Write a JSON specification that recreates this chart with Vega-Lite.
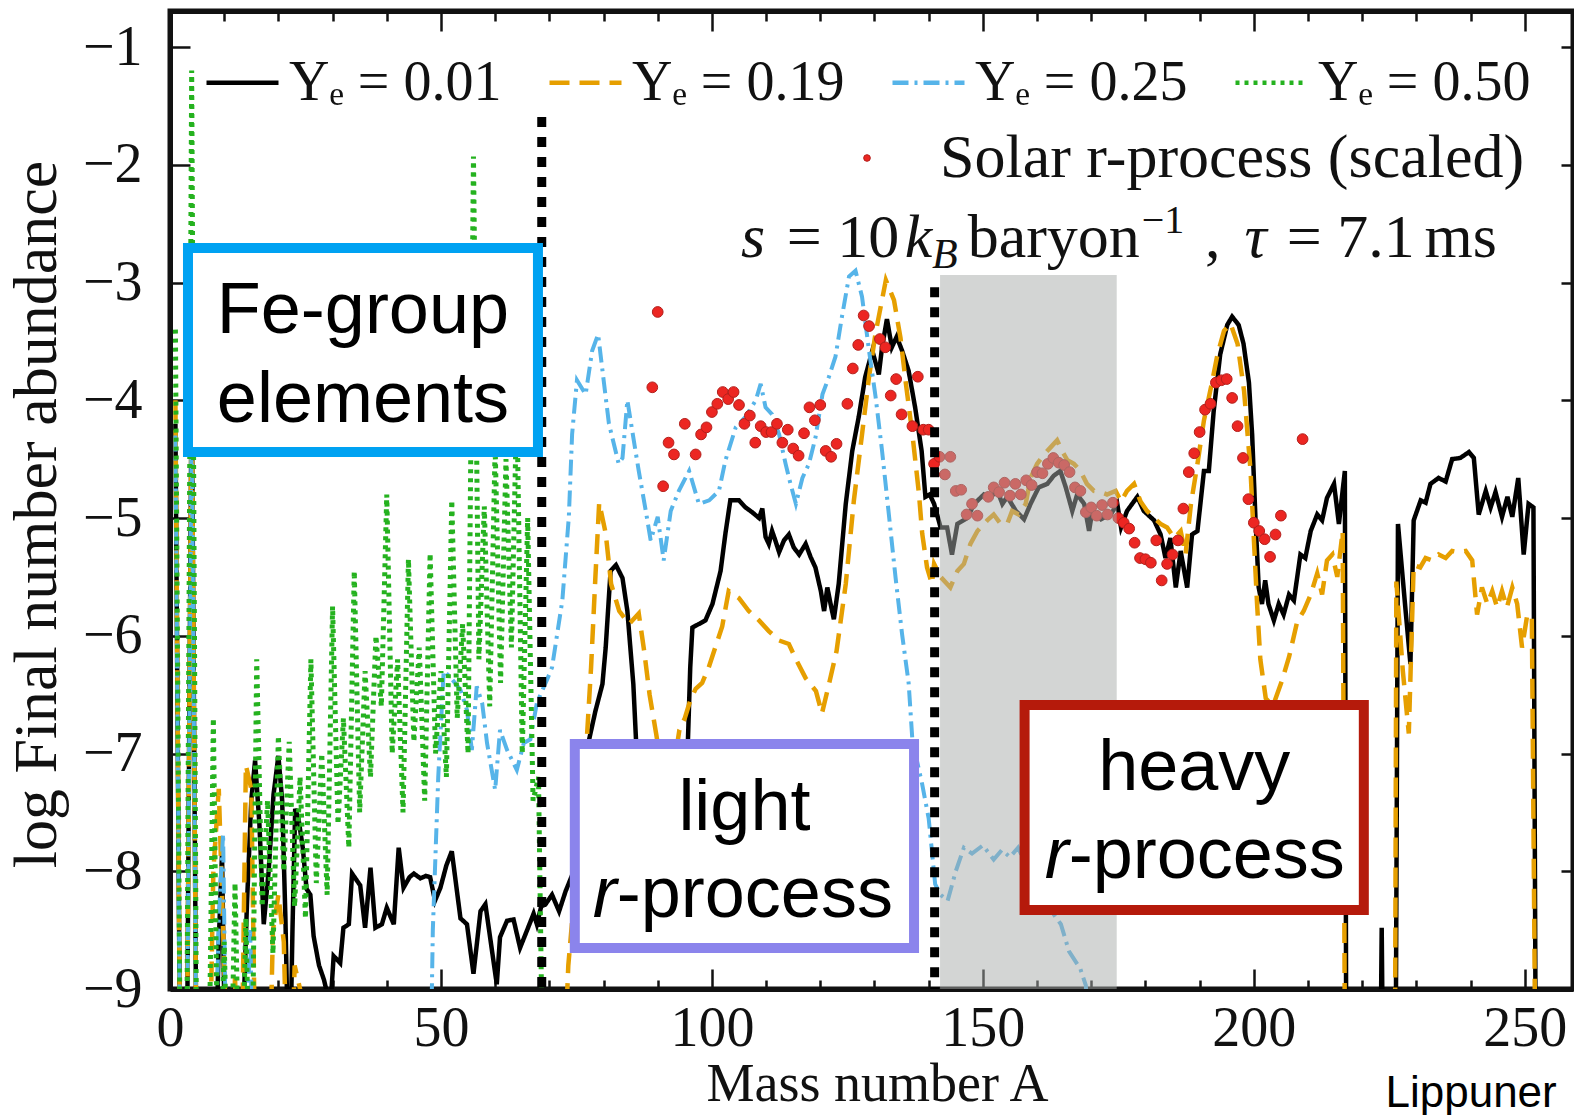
{
  "$schema": "https://vega.github.io/schema/vega-lite/v6.json",
  "width": 1403,
  "height": 978,
  "autosize": {"type": "none"},
  "padding": {"left": 170, "top": 11, "right": 1, "bottom": 126},
  "background": "#ffffff",
  "config": {
    "view": {"stroke": "#111111", "strokeWidth": 5},
    "axis": {
      "domainColor": "#111111", "domainWidth": 5, "tickColor": "#111111", "tickWidth": 2.5,
      "grid": false, "labelFont": "Liberation Serif", "labelFontSize": 56, "labelColor": "#111111",
      "titleFont": "Liberation Serif", "titleFontWeight": "normal", "titleColor": "#111111",
      "labelFlush": false, "labelOverlap": false, "labelBound": false, "zindex": 1
    },
    "legend": {"labelFont": "Liberation Serif", "labelColor": "#111111", "padding": 0}
  },
  "datasets": {
    "ye001": [
      {"A":1,"v":-4.2},{"A":2,"v":-10.5},{"A":3,"v":-10.5},{"A":4,"v":-3.8},{"A":5,"v":-10.5},{"A":8,"v":-10.5},
      {"A":9,"v":-8.6},{"A":9.6,"v":-7.85},{"A":10.3,"v":-10},{"A":13,"v":-10},{"A":14.2,"v":-8.28},{"A":15,"v":-7.4},
      {"A":15.7,"v":-7.06},{"A":16.5,"v":-7.6},{"A":17.3,"v":-8.45},{"A":18.2,"v":-8.0},{"A":19.1,"v":-7.35},{"A":20,"v":-7.02},
      {"A":20.7,"v":-7.4},{"A":21.3,"v":-8.4},{"A":22,"v":-10},{"A":22.6,"v":-8.5},{"A":23.1,"v":-7.47},{"A":23.7,"v":-7.55},
      {"A":24.5,"v":-7.8},{"A":25.2,"v":-8.15},{"A":25.9,"v":-8.2},{"A":26.5,"v":-8.55},{"A":27.5,"v":-8.8},{"A":28.4,"v":-8.92},
      {"A":29.6,"v":-9.15},{"A":30.2,"v":-8.72},{"A":31.4,"v":-8.78},{"A":32,"v":-8.48},{"A":33,"v":-8.45},{"A":33.6,"v":-8.02},
      {"A":35.1,"v":-8.12},{"A":36,"v":-8.48},{"A":37,"v":-7.97},{"A":37.9,"v":-8.48},{"A":39.1,"v":-8.45},{"A":40,"v":-8.31},
      {"A":41.3,"v":-8.45},{"A":42.2,"v":-7.8},{"A":43.1,"v":-8.14},{"A":44.2,"v":-8.05},{"A":45,"v":-8.02},{"A":46.2,"v":-8.06},
      {"A":47.2,"v":-8.04},{"A":48,"v":-8.05},{"A":48.9,"v":-8.25},{"A":49.9,"v":-8.14},{"A":51,"v":-7.95},{"A":52,"v":-7.83},
      {"A":53.6,"v":-8.4},{"A":54.8,"v":-8.45},{"A":56,"v":-8.87},{"A":57.3,"v":-8.34},{"A":58.2,"v":-8.28},{"A":60.3,"v":-8.96},
      {"A":60.9,"v":-8.56},{"A":62.2,"v":-8.42},{"A":63.4,"v":-8.41},{"A":64.6,"v":-8.65},{"A":65.9,"v":-8.5},{"A":67.1,"v":-8.36},
      {"A":67.7,"v":-8.45},{"A":68.5,"v":-8.3},{"A":69.3,"v":-8.28},{"A":70.5,"v":-8.2},{"A":71.8,"v":-8.34},{"A":73,"v":-8.17},
      {"A":74.5,"v":-8.0},{"A":75.5,"v":-7.6},{"A":76.5,"v":-7.2},{"A":77.3,"v":-6.89},{"A":78.5,"v":-6.64},{"A":79.8,"v":-6.41},
      {"A":80.4,"v":-6.1},{"A":81.3,"v":-5.45},{"A":82.3,"v":-5.4},{"A":83.5,"v":-5.51},{"A":84.4,"v":-5.79},{"A":85,"v":-6.13},
      {"A":85.5,"v":-6.41},{"A":86,"v":-6.89},{"A":87,"v":-7.5},{"A":89,"v":-8.2},{"A":92,"v":-8.3},{"A":94,"v":-7.8},
      {"A":95.5,"v":-7.0},{"A":96,"v":-6.27},{"A":96.4,"v":-5.93},{"A":97.6,"v":-5.9},{"A":98.8,"v":-5.87},{"A":100.1,"v":-5.73},
      {"A":101.6,"v":-5.45},{"A":102.5,"v":-5.13},{"A":103.4,"v":-4.85},{"A":105,"v":-4.85},{"A":106.2,"v":-4.91},{"A":107.4,"v":-4.95},
      {"A":108.7,"v":-5.0},{"A":109.3,"v":-4.92},{"A":109.9,"v":-5.16},{"A":110.5,"v":-5.22},{"A":111.1,"v":-5.11},{"A":111.7,"v":-5.19},
      {"A":112.4,"v":-5.29},{"A":113.3,"v":-5.19},{"A":114.2,"v":-5.14},{"A":115.1,"v":-5.25},{"A":116.1,"v":-5.31},{"A":117.3,"v":-5.22},
      {"A":118.2,"v":-5.33},{"A":119.1,"v":-5.42},{"A":120.1,"v":-5.62},{"A":120.7,"v":-5.79},{"A":121.3,"v":-5.59},{"A":121.9,"v":-5.73},
      {"A":122.5,"v":-5.86},{"A":123.4,"v":-5.56},{"A":124.7,"v":-4.88},{"A":125.9,"v":-4.43},{"A":127.1,"v":-4.14},{"A":128.3,"v":-3.8},
      {"A":129.6,"v":-3.58},{"A":130.8,"v":-3.78},{"A":131.4,"v":-3.55},{"A":132.3,"v":-3.31},{"A":133.2,"v":-3.55},{"A":134.1,"v":-3.46},
      {"A":135.1,"v":-3.58},{"A":136.3,"v":-3.75},{"A":137.5,"v":-4.06},{"A":138.7,"v":-4.43},{"A":139.4,"v":-4.82},{"A":140.2,"v":-4.8},
      {"A":141,"v":-4.88},{"A":142.2,"v":-5.08},{"A":143.4,"v":-5.08},{"A":144.3,"v":-5.31},{"A":145.3,"v":-5.05},{"A":147.1,"v":-5.0},
      {"A":148.4,"v":-4.88},{"A":150.2,"v":-4.8},{"A":151.4,"v":-4.82},{"A":152.7,"v":-4.77},{"A":153.6,"v":-4.88},{"A":154.5,"v":-4.82},
      {"A":156.1,"v":-4.94},{"A":157.6,"v":-5.01},{"A":158.8,"v":-4.88},{"A":160.3,"v":-4.74},{"A":161.9,"v":-4.71},{"A":163.1,"v":-4.64},
      {"A":164.3,"v":-4.6},{"A":165.3,"v":-4.74},{"A":166.5,"v":-4.94},{"A":167.4,"v":-4.8},{"A":168.7,"v":-4.88},{"A":169.6,"v":-5.11},
      {"A":170.2,"v":-4.94},{"A":171.8,"v":-5.01},{"A":173.6,"v":-4.97},{"A":174.8,"v":-4.88},{"A":175.5,"v":-5.08},{"A":176.6,"v":-4.94},
      {"A":178.5,"v":-4.82},{"A":179.7,"v":-4.94},{"A":181.6,"v":-5.02},{"A":182.8,"v":-5.14},{"A":183.7,"v":-5.34},{"A":184.6,"v":-5.17},
      {"A":185.6,"v":-5.59},{"A":186.5,"v":-5.28},{"A":187.7,"v":-5.59},{"A":188.6,"v":-5.14},{"A":189.6,"v":-5.11},{"A":190.8,"v":-4.6},
      {"A":191.7,"v":-4.6},{"A":192.6,"v":-4.09},{"A":193.8,"v":-3.61},{"A":195.1,"v":-3.36},{"A":196,"v":-3.29},{"A":197.2,"v":-3.36},
      {"A":198.1,"v":-3.52},{"A":199.1,"v":-3.85},{"A":199.7,"v":-4.3},{"A":200.3,"v":-5.0},{"A":200.9,"v":-5.59},{"A":201.5,"v":-5.73},
      {"A":202.1,"v":-5.53},{"A":202.7,"v":-5.73},{"A":203.7,"v":-5.87},{"A":204.6,"v":-5.73},{"A":205.5,"v":-5.82},{"A":206.5,"v":-5.65},
      {"A":207.4,"v":-5.7},{"A":208.6,"v":-5.31},{"A":209.5,"v":-5.34},{"A":210.5,"v":-5.11},{"A":211.7,"v":-4.97},{"A":212.6,"v":-5.02},
      {"A":213.5,"v":-4.83},{"A":214.8,"v":-4.71},{"A":215.7,"v":-5.05},{"A":216.8,"v":-4.6},{"A":217.1,"v":-10.5},{"A":223.2,"v":-10.5},
      {"A":223.6,"v":-8.48},{"A":224,"v":-10.5},{"A":226.1,"v":-10.5},{"A":226.6,"v":-5.05},{"A":227.9,"v":-5.73},{"A":228.9,"v":-6.24},
      {"A":229.5,"v":-5.02},{"A":230.8,"v":-4.85},{"A":231.7,"v":-4.87},{"A":232.6,"v":-4.71},{"A":234.1,"v":-4.66},{"A":235.4,"v":-4.69},
      {"A":236.6,"v":-4.5},{"A":238.1,"v":-4.49},{"A":239.7,"v":-4.44},{"A":240.6,"v":-4.49},{"A":241.5,"v":-4.97},{"A":242.8,"v":-4.77},
      {"A":243.7,"v":-4.91},{"A":244.6,"v":-4.78},{"A":245.8,"v":-4.99},{"A":246.8,"v":-4.82},{"A":247.7,"v":-4.99},{"A":248.8,"v":-4.66},
      {"A":249.8,"v":-5.31},{"A":250.7,"v":-4.88},{"A":251.6,"v":-4.91},{"A":252.1,"v":-10.5}
    ],
    "ye019": [
      {"A":1,"v":-4.0},{"A":2,"v":-10.5},{"A":3,"v":-10.5},{"A":4,"v":-3.9},{"A":5,"v":-10.5},{"A":7,"v":-10.5},{"A":8,"v":-8.0},
      {"A":9,"v":-7.3},{"A":10,"v":-8.8},{"A":11,"v":-10.5},{"A":12,"v":-8.9},{"A":13,"v":-10.5},{"A":14,"v":-7.1},{"A":15,"v":-7.3},
      {"A":16,"v":-10.5},{"A":18,"v":-10.5},{"A":19,"v":-8.5},{"A":20,"v":-8.2},{"A":21,"v":-8.6},{"A":22,"v":-10.5},{"A":23,"v":-8.8},
      {"A":24,"v":-9.0},{"A":25,"v":-10.5},{"A":72,"v":-10.5},{"A":73.5,"v":-8.8},{"A":75,"v":-8.0},{"A":76.5,"v":-7.2},{"A":77.7,"v":-6.27},
      {"A":78.5,"v":-5.5},{"A":79.2,"v":-4.87},{"A":80.4,"v":-5.13},{"A":81.4,"v":-5.56},{"A":82.9,"v":-5.79},{"A":84.7,"v":-5.9},
      {"A":86.5,"v":-5.81},{"A":87.5,"v":-6.13},{"A":88.5,"v":-6.5},{"A":89.7,"v":-6.83},{"A":91,"v":-7.2},{"A":93,"v":-7.1},{"A":94,"v":-6.8},
      {"A":95,"v":-6.7},{"A":96,"v":-6.55},{"A":97,"v":-6.45},{"A":98.2,"v":-6.4},{"A":99.4,"v":-6.27},{"A":101.9,"v":-5.92},{"A":103.1,"v":-5.62},
      {"A":105,"v":-5.68},{"A":106.8,"v":-5.79},{"A":108.7,"v":-5.87},{"A":110.5,"v":-5.96},{"A":112.4,"v":-6.04},{"A":114.2,"v":-6.07},
      {"A":115.5,"v":-6.2},{"A":117.3,"v":-6.36},{"A":119.2,"v":-6.47},{"A":120.3,"v":-6.66},{"A":121.6,"v":-6.41},{"A":123,"v":-6.13},
      {"A":124.7,"v":-5.56},{"A":126.2,"v":-4.85},{"A":127.7,"v":-4.29},{"A":129,"v":-3.8},{"A":130.2,"v":-3.43},{"A":132.1,"v":-2.98},
      {"A":133.6,"v":-3.15},{"A":134.8,"v":-3.47},{"A":135.8,"v":-3.86},{"A":137,"v":-4.29},{"A":138.2,"v":-4.79},{"A":138.8,"v":-5.13},
      {"A":139.7,"v":-5.42},{"A":140.6,"v":-5.56},{"A":141,"v":-5.39},{"A":142.2,"v":-5.5},{"A":144,"v":-5.59},{"A":145.3,"v":-5.45},
      {"A":146.5,"v":-5.39},{"A":147.7,"v":-5.22},{"A":149,"v":-5.11},{"A":150.8,"v":-5.02},{"A":152,"v":-4.97},{"A":153.3,"v":-5.05},
      {"A":154.5,"v":-5.05},{"A":155.4,"v":-4.94},{"A":156.6,"v":-4.97},{"A":157.9,"v":-4.88},{"A":158.8,"v":-4.66},{"A":160,"v":-4.54},
      {"A":161.3,"v":-4.46},{"A":162.5,"v":-4.4},{"A":163.7,"v":-4.34},{"A":164.6,"v":-4.43},{"A":165.6,"v":-4.51},{"A":166.8,"v":-4.54},
      {"A":168,"v":-4.6},{"A":169.2,"v":-4.71},{"A":170.5,"v":-4.77},{"A":171.7,"v":-4.78},{"A":172.9,"v":-4.8},{"A":174.5,"v":-4.77},
      {"A":175.5,"v":-4.86},{"A":176.6,"v":-4.77},{"A":177.9,"v":-4.71},{"A":179.1,"v":-4.86},{"A":180.3,"v":-4.94},{"A":181.6,"v":-5.0},
      {"A":182.8,"v":-5.05},{"A":184,"v":-5.08},{"A":185.3,"v":-5.17},{"A":186.5,"v":-5.11},{"A":187.4,"v":-5.31},{"A":188.4,"v":-4.88},
      {"A":189.6,"v":-4.54},{"A":190.8,"v":-4.17},{"A":192.1,"v":-3.89},{"A":193.3,"v":-3.61},{"A":194.5,"v":-3.41},{"A":195.7,"v":-3.35},
      {"A":197,"v":-3.52},{"A":198.2,"v":-3.92},{"A":199.4,"v":-4.6},{"A":200,"v":-5.17},{"A":200.6,"v":-5.73},{"A":201.2,"v":-6.2},
      {"A":202.2,"v":-6.53},{"A":203.5,"v":-6.6},{"A":205.2,"v":-6.38},{"A":206.5,"v":-6.18},{"A":208,"v":-5.88},{"A":209.2,"v":-5.79},
      {"A":210.5,"v":-5.65},{"A":211.7,"v":-5.47},{"A":212.6,"v":-5.65},{"A":213.5,"v":-5.36},{"A":214.5,"v":-5.31},{"A":215.4,"v":-5.5},
      {"A":216.4,"v":-5.11},{"A":216.9,"v":-10.5},{"A":226,"v":-10.5},{"A":226.3,"v":-5.54},{"A":227.5,"v":-6.3},{"A":228.6,"v":-6.83},
      {"A":229.5,"v":-5.4},{"A":230.7,"v":-5.42},{"A":231.7,"v":-5.34},{"A":232.9,"v":-5.36},{"A":234.1,"v":-5.31},{"A":235.4,"v":-5.34},
      {"A":236.6,"v":-5.28},{"A":237.8,"v":-5.29},{"A":239.1,"v":-5.28},{"A":240.3,"v":-5.36},{"A":241.2,"v":-5.82},{"A":242.1,"v":-5.59},
      {"A":243.1,"v":-5.73},{"A":244,"v":-5.62},{"A":244.9,"v":-5.76},{"A":245.8,"v":-5.62},{"A":246.7,"v":-5.76},{"A":247.7,"v":-5.59},
      {"A":248.6,"v":-5.73},{"A":249.5,"v":-6.1},{"A":250.4,"v":-5.84},{"A":251.3,"v":-5.82},{"A":252.1,"v":-10.5}
    ],
    "ye025": [
      {"A":1,"v":-4.3},{"A":2,"v":-10.5},{"A":3,"v":-10.5},{"A":4,"v":-4.1},{"A":5,"v":-10.5},{"A":8,"v":-10.5},{"A":9,"v":-8.4},
      {"A":9.8,"v":-7.68},{"A":10.6,"v":-10.5},{"A":13.5,"v":-10.5},{"A":14.8,"v":-8.5},{"A":15.6,"v":-10.5},{"A":47.8,"v":-10.5},
      {"A":48.5,"v":-8.5},{"A":49.5,"v":-7.2},{"A":50.5,"v":-6.3},{"A":51.7,"v":-6.35},{"A":53.6,"v":-6.46},{"A":54.8,"v":-6.63},
      {"A":55.7,"v":-6.97},{"A":56.6,"v":-6.43},{"A":57.6,"v":-6.57},{"A":58.5,"v":-6.91},{"A":60,"v":-7.31},{"A":60.9,"v":-6.8},
      {"A":62.2,"v":-6.97},{"A":64,"v":-7.14},{"A":65.3,"v":-6.91},{"A":66.5,"v":-6.88},{"A":67.7,"v":-6.57},{"A":69.6,"v":-6.37},
      {"A":70.5,"v":-6.27},{"A":72.4,"v":-5.7},{"A":73.6,"v":-4.99},{"A":74.2,"v":-4.29},{"A":75.1,"v":-3.83},{"A":76.7,"v":-3.95},
      {"A":77.9,"v":-3.58},{"A":79,"v":-3.44},{"A":80.1,"v":-3.86},{"A":81,"v":-4.2},{"A":82.8,"v":-4.54},{"A":83.5,"v":-4.49},
      {"A":84.4,"v":-4.0},{"A":85.3,"v":-4.26},{"A":86.5,"v":-4.6},{"A":87.8,"v":-4.94},{"A":88.7,"v":-5.19},{"A":90,"v":-4.99},
      {"A":91.1,"v":-5.36},{"A":92.4,"v":-4.94},{"A":93.9,"v":-4.77},{"A":95.8,"v":-4.6},{"A":97.6,"v":-4.88},{"A":99.5,"v":-4.85},
      {"A":101.3,"v":-4.77},{"A":102.5,"v":-4.51},{"A":104.4,"v":-4.23},{"A":106.2,"v":-4.14},{"A":108.1,"v":-4.0},{"A":109,"v":-3.86},
      {"A":109.9,"v":-4.06},{"A":111.1,"v":-4.12},{"A":112.4,"v":-4.29},{"A":113.6,"v":-4.54},{"A":114.5,"v":-4.71},{"A":115.5,"v":-4.88},
      {"A":116.7,"v":-4.66},{"A":117.9,"v":-4.54},{"A":119.1,"v":-4.32},{"A":120.4,"v":-3.95},{"A":121.6,"v":-3.8},{"A":122.8,"v":-3.63},
      {"A":124,"v":-3.29},{"A":125.3,"v":-2.95},{"A":126.5,"v":-2.9},{"A":127.7,"v":-3.12},{"A":129,"v":-3.58},{"A":130.2,"v":-3.97},
      {"A":131.4,"v":-4.43},{"A":132.7,"v":-4.99},{"A":133.9,"v":-5.51},{"A":135.1,"v":-5.99},{"A":136.3,"v":-6.4},{"A":137,"v":-6.89},
      {"A":138.8,"v":-7.26},{"A":140,"v":-7.55},{"A":141.2,"v":-8.11},{"A":142.2,"v":-8.2},{"A":143.5,"v":-8.25},{"A":145,"v":-8.0},
      {"A":146.5,"v":-7.8},{"A":148,"v":-7.85},{"A":150,"v":-7.78},{"A":152,"v":-7.9},{"A":153.5,"v":-7.82},{"A":155,"v":-7.88},
      {"A":156.5,"v":-7.8},{"A":158,"v":-7.95},{"A":160,"v":-8.1},{"A":162,"v":-8.3},{"A":164.4,"v":-8.45},{"A":165.9,"v":-8.68},
      {"A":168,"v":-8.83},{"A":169,"v":-8.97},{"A":170.5,"v":-10.5}
    ],
    "ye050": [
      {"A":1,"v":-3.4},{"A":2,"v":-10.5},{"A":3,"v":-10.5},{"A":4,"v":-1.2},{"A":5,"v":-10.5},{"A":7,"v":-10.5},{"A":8,"v":-6.7},
      {"A":9,"v":-10.5},{"A":10,"v":-8.6},{"A":11,"v":-10.5},{"A":12,"v":-8.1},{"A":13,"v":-10.5},{"A":14,"v":-8.4},{"A":15,"v":-10.5},
      {"A":16,"v":-6.2},{"A":17,"v":-8.3},{"A":18,"v":-7.4},{"A":19,"v":-8.7},{"A":20,"v":-6.85},{"A":21,"v":-8.0},{"A":22,"v":-6.9},
      {"A":23,"v":-8.3},{"A":24,"v":-7.2},{"A":25,"v":-8.4},{"A":26,"v":-6.2},{"A":27,"v":-8.1},{"A":28,"v":-7.0},{"A":29,"v":-8.2},
      {"A":30,"v":-5.75},{"A":31,"v":-7.6},{"A":32,"v":-6.7},{"A":33,"v":-7.8},{"A":34,"v":-5.45},{"A":35,"v":-7.5},{"A":36,"v":-6.3},
      {"A":37,"v":-7.2},{"A":38,"v":-6.0},{"A":39,"v":-6.6},{"A":40,"v":-4.8},{"A":41,"v":-7.0},{"A":42,"v":-6.2},{"A":43,"v":-7.5},
      {"A":44,"v":-5.35},{"A":45,"v":-6.9},{"A":46,"v":-6.1},{"A":47,"v":-7.4},{"A":48,"v":-5.3},{"A":49,"v":-7.0},{"A":50,"v":-6.3},
      {"A":51,"v":-7.2},{"A":52,"v":-4.85},{"A":53,"v":-6.7},{"A":54,"v":-5.9},{"A":55,"v":-7.0},{"A":56,"v":-1.93},{"A":57,"v":-6.2},
      {"A":58,"v":-4.9},{"A":59,"v":-6.6},{"A":60,"v":-4.4},{"A":61,"v":-6.4},{"A":62,"v":-4.5},{"A":63,"v":-6.1},{"A":64,"v":-4.0},
      {"A":65,"v":-7.0},{"A":66,"v":-5.0},{"A":67,"v":-7.4},{"A":68,"v":-7.2},{"A":69,"v":-10.5}
    ],
    "solar": [
      {"A":89,"v":-3.89},{"A":90,"v":-3.25},{"A":91,"v":-4.73},{"A":92,"v":-4.36},{"A":93,"v":-4.46},{"A":95,"v":-4.2},{"A":97,"v":-4.46},
      {"A":98,"v":-4.29},{"A":99,"v":-4.23},{"A":100,"v":-4.1},{"A":101,"v":-4.03},{"A":102,"v":-3.93},{"A":103,"v":-3.99},{"A":104,"v":-3.93},
      {"A":105,"v":-4.04},{"A":106,"v":-4.2},{"A":107,"v":-4.13},{"A":108,"v":-4.36},{"A":109,"v":-4.22},{"A":110,"v":-4.27},{"A":111,"v":-4.27},
      {"A":112,"v":-4.2},{"A":113,"v":-4.36},{"A":114,"v":-4.25},{"A":115,"v":-4.41},{"A":116,"v":-4.47},{"A":117,"v":-4.28},{"A":118,"v":-4.06},
      {"A":119,"v":-4.17},{"A":120,"v":-4.04},{"A":121,"v":-4.43},{"A":122,"v":-4.48},{"A":123,"v":-4.37},{"A":125,"v":-4.03},{"A":126,"v":-3.73},
      {"A":127,"v":-3.53},{"A":128,"v":-3.28},{"A":129,"v":-3.37},{"A":131,"v":-3.48},{"A":132,"v":-3.55},{"A":133,"v":-3.96},{"A":134,"v":-3.82},
      {"A":135,"v":-4.12},{"A":137,"v":-4.22},{"A":138,"v":-3.8},{"A":139,"v":-4.25},{"A":140,"v":-4.25},{"A":141,"v":-4.54},{"A":142,"v":-4.48},
      {"A":143,"v":-4.63},{"A":144,"v":-4.48},{"A":145,"v":-4.77},{"A":146,"v":-4.76},{"A":147,"v":-4.97},{"A":148,"v":-4.88},{"A":149,"v":-4.98},
      {"A":151,"v":-4.82},{"A":152,"v":-4.74},{"A":153,"v":-4.78},{"A":154,"v":-4.7},{"A":155,"v":-4.81},{"A":156,"v":-4.71},{"A":157,"v":-4.8},
      {"A":158,"v":-4.68},{"A":159,"v":-4.72},{"A":160,"v":-4.61},{"A":161,"v":-4.62},{"A":162,"v":-4.54},{"A":163,"v":-4.49},{"A":164,"v":-4.53},
      {"A":165,"v":-4.55},{"A":166,"v":-4.61},{"A":167,"v":-4.74},{"A":168,"v":-4.77},{"A":169,"v":-4.95},{"A":170,"v":-4.91},{"A":171,"v":-4.98},
      {"A":172,"v":-4.89},{"A":173,"v":-4.97},{"A":174,"v":-4.87},{"A":175,"v":-5.0},{"A":176,"v":-5.04},{"A":177,"v":-5.09},{"A":178,"v":-5.21},
      {"A":179,"v":-5.34},{"A":180,"v":-5.35},{"A":181,"v":-5.38},{"A":182,"v":-5.19},{"A":183,"v":-5.53},{"A":184,"v":-5.39},{"A":185,"v":-5.31},
      {"A":186,"v":-5.19},{"A":187,"v":-4.92},{"A":188,"v":-4.61},{"A":189,"v":-4.45},{"A":190,"v":-4.27},{"A":191,"v":-4.08},{"A":192,"v":-4.03},
      {"A":193,"v":-3.85},{"A":194,"v":-3.83},{"A":195,"v":-3.82},{"A":196,"v":-3.98},{"A":197,"v":-4.22},{"A":198,"v":-4.49},{"A":199,"v":-4.84},
      {"A":200,"v":-5.04},{"A":201,"v":-5.11},{"A":202,"v":-5.18},{"A":203,"v":-5.33},{"A":204,"v":-5.14},{"A":205,"v":-4.98},{"A":209,"v":-4.33}
    ]
  },
  "layer": [
    {
      "data": {"name": "ye001"},
      "mark": {"type": "line", "clip": true, "strokeWidth": 4.5},
      "encoding": {
        "x": {
          "field": "A", "type": "quantitative",
          "scale": {"domain": [0, 258.9], "nice": false, "zero": false},
          "axis": {
            "orient": "bottom",
            "values": [0,10,20,30,40,50,60,70,80,90,100,110,120,130,140,150,160,170,180,190,200,210,220,230,240,250],
            "labelExpr": "datum.value % 50 === 0 ? datum.label : ''",
            "tickSize": {"condition": {"test": "datum.value % 50 === 0", "value": -20}, "value": -9},
            "labelBaseline": "alphabetic", "labelPadding": 76,
            "title": "Mass number A", "titleFontSize": 54,
            "titleX": 707, "titleY": 111, "titleBaseline": "alphabetic", "titleAlign": "center"
          }
        },
        "y": {
          "field": "v", "type": "quantitative",
          "scale": {"domain": [-9, -0.694], "nice": false, "zero": false},
          "axis": {
            "orient": "left",
            "values": [-9,-8,-7,-6,-5,-4,-3,-2,-1],
            "tickSize": -20, "labelPadding": 48,
            "title": "log Final number abundance", "titleFontSize": 62,
            "titleX": -115, "titleY": 503, "titleAngle": 270, "titleBaseline": "alphabetic", "titleAlign": "center"
          }
        },
        "color": {
          "datum": "0.01", "type": "nominal",
          "scale": {"domain": ["0.01","0.19","0.25","0.50"], "range": ["#000000","#e69f00","#56b4e9","#25b21f"]},
          "legend": {"orient": "none", "legendX": 34, "legendY": 33, "direction": "horizontal", "columns": 4, "title": null,
                     "labelExpr": "'Yₑ = ' + datum.label", "symbolType": "stroke", "symbolSize": 5184, "symbolStrokeWidth": 4.5,
                     "labelFontSize": 56, "labelOffset": 8, "columnPadding": 38, "padding": 0, "labelLimit": 0}
        },
        "strokeDash": {
          "datum": "0.01", "type": "nominal",
          "scale": {"domain": ["0.01","0.19","0.25","0.50"], "range": [[1,0],[20,10],[16,6,3,6],[4,5]]},
          "legend": {"orient": "none", "legendX": 34, "legendY": 33, "direction": "horizontal", "columns": 4, "title": null,
                     "labelExpr": "'Yₑ = ' + datum.label", "symbolType": "stroke", "symbolSize": 5184, "symbolStrokeWidth": 4.5,
                     "labelFontSize": 56, "labelOffset": 8, "columnPadding": 38, "padding": 0, "labelLimit": 0}
        }
      }
    },
    {
      "data": {"name": "ye019"},
      "mark": {"type": "line", "clip": true, "strokeWidth": 4.5},
      "encoding": {
        "x": {"field": "A", "type": "quantitative", "axis": null},
        "y": {"field": "v", "type": "quantitative", "axis": null},
        "color": {"datum": "0.19", "type": "nominal"},
        "strokeDash": {"datum": "0.19", "type": "nominal"}
      }
    },
    {
      "data": {"name": "ye025"},
      "mark": {"type": "line", "clip": true, "strokeWidth": 4},
      "encoding": {
        "x": {"field": "A", "type": "quantitative", "axis": null},
        "y": {"field": "v", "type": "quantitative", "axis": null},
        "color": {"datum": "0.25", "type": "nominal"},
        "strokeDash": {"datum": "0.25", "type": "nominal"}
      }
    },
    {
      "data": {"name": "ye050"},
      "mark": {"type": "line", "clip": true, "strokeWidth": 5},
      "encoding": {
        "x": {"field": "A", "type": "quantitative", "axis": null},
        "y": {"field": "v", "type": "quantitative", "axis": null},
        "color": {"datum": "0.50", "type": "nominal"},
        "strokeDash": {"datum": "0.50", "type": "nominal"}
      }
    },
    {
      "data": {"name": "solar"},
      "mark": {"type": "circle", "size": 115, "opacity": 1, "stroke": "#b3201c", "strokeWidth": 1},
      "encoding": {
        "x": {"field": "A", "type": "quantitative", "axis": null},
        "y": {"field": "v", "type": "quantitative", "axis": null},
        "fill": {
          "datum": "Solar r-process (scaled)", "type": "nominal",
          "scale": {"range": ["#ec2622"]},
          "legend": {"orient": "none", "legendX": 666, "legendY": 116, "title": null, "symbolType": "circle", "symbolSize": 44,
                     "symbolStrokeColor": "#b3201c", "symbolStrokeWidth": 1, "labelFontSize": 62, "labelOffset": 42,
                     "padding": 0, "labelLimit": 0}
        }
      }
    },
    {
      "data": {"values": [{"A0": 142.1, "A1": 174.7, "top": -2.936, "bottom": -9}]},
      "mark": {"type": "rect", "fill": "#a7aba9", "fillOpacity": 0.5},
      "encoding": {
        "x": {
          "field": "A0", "type": "quantitative",
          "axis": {
            "orient": "top", "labels": false, "title": null,
            "values": [0,10,20,30,40,50,60,70,80,90,100,110,120,130,140,150,160,170,180,190,200,210,220,230,240,250],
            "tickSize": {"condition": {"test": "datum.value % 50 === 0", "value": -20}, "value": -10}
          }
        },
        "x2": {"field": "A1"},
        "y": {
          "field": "top", "type": "quantitative",
          "axis": {"orient": "right", "labels": false, "title": null, "values": [-9,-8,-7,-6,-5,-4,-3,-2,-1], "tickSize": -12}
        },
        "y2": {"field": "bottom"}
      }
    },
    {
      "data": {"values": [{"A": 68.6, "top": -1.594}, {"A": 141.1, "top": -3.04}]},
      "mark": {"type": "rule", "color": "#000000", "strokeWidth": 9, "strokeDash": [10, 10]},
      "encoding": {
        "x": {"field": "A", "type": "quantitative", "axis": null},
        "y": {"field": "top", "type": "quantitative", "axis": null},
        "y2": {"datum": -9}
      }
    },
    {
      "data": {"values": [
        {"region": "Fe-group elements", "A0": 3.32, "A1": 67.9, "top": -2.707, "bottom": -4.439},
        {"region": "light r-process", "A0": 74.7, "A1": 137.3, "top": -6.919, "bottom": -8.652},
        {"region": "heavy r-process", "A0": 157.7, "A1": 220.3, "top": -6.588, "bottom": -8.329}
      ]},
      "mark": {"type": "rect", "fill": "#ffffff", "strokeWidth": 10},
      "encoding": {
        "x": {"field": "A0", "type": "quantitative", "axis": null},
        "x2": {"field": "A1"},
        "y": {"field": "top", "type": "quantitative", "axis": null},
        "y2": {"field": "bottom"},
        "stroke": {
          "field": "region", "type": "nominal", "legend": null,
          "scale": {"domain": ["Fe-group elements", "light r-process", "heavy r-process"], "range": ["#00a2f2", "#8b84ec", "#b51a0b"]}
        }
      }
    },
    {
      "data": {"values": [
        {"A": 35.6, "v": -3.429, "t": "Fe-group"},
        {"A": 35.6, "v": -4.185, "t": "elements"},
        {"A": 106.0, "v": -7.65, "t": "light"},
        {"A": 189.0, "v": -7.31, "t": "heavy"}
      ]},
      "mark": {"type": "text", "font": "Liberation Sans", "fontSize": 72, "align": "center", "baseline": "alphabetic", "color": "#000000"},
      "encoding": {
        "x": {"field": "A", "type": "quantitative", "axis": null},
        "y": {"field": "v", "type": "quantitative", "axis": null},
        "text": {"field": "t"}
      }
    },
    {
      "data": {"values": [{"A": 78.0, "v": -8.389, "t": "r"}, {"A": 161.4, "v": -8.057, "t": "r"}]},
      "mark": {"type": "text", "font": "Liberation Sans", "fontStyle": "italic", "fontSize": 72, "align": "left", "baseline": "alphabetic", "color": "#000000"},
      "encoding": {
        "x": {"field": "A", "type": "quantitative", "axis": null},
        "y": {"field": "v", "type": "quantitative", "axis": null},
        "text": {"field": "t"}
      }
    },
    {
      "data": {"values": [{"A": 82.45, "v": -8.389, "t": "-process"}, {"A": 165.85, "v": -8.057, "t": "-process"}]},
      "mark": {"type": "text", "font": "Liberation Sans", "fontSize": 72, "align": "left", "baseline": "alphabetic", "color": "#000000"},
      "encoding": {
        "x": {"field": "A", "type": "quantitative", "axis": null},
        "y": {"field": "v", "type": "quantitative", "axis": null},
        "text": {"field": "t"}
      }
    },
    {
      "data": {"values": [{"A": 105.35, "v": -2.783, "t": "s"}, {"A": 135.6, "v": -2.783, "t": "k"}, {"A": 198.3, "v": -2.783, "t": "τ"}]},
      "mark": {"type": "text", "font": "Liberation Serif", "fontStyle": "italic", "fontSize": 62, "align": "left", "baseline": "alphabetic", "color": "#111111"},
      "encoding": {
        "x": {"field": "A", "type": "quantitative", "axis": null},
        "y": {"field": "v", "type": "quantitative", "axis": null},
        "text": {"field": "t"}
      }
    },
    {
      "data": {"values": [
        {"A": 113.8, "v": -2.783, "t": "= 10"},
        {"A": 147.2, "v": -2.783, "t": "baryon"},
        {"A": 191.0, "v": -2.783, "t": ","},
        {"A": 206.1, "v": -2.783, "t": "= 7.1"},
        {"A": 231.5, "v": -2.783, "t": "ms"}
      ]},
      "mark": {"type": "text", "font": "Liberation Serif", "fontSize": 62, "align": "left", "baseline": "alphabetic", "color": "#111111"},
      "encoding": {
        "x": {"field": "A", "type": "quantitative", "axis": null},
        "y": {"field": "v", "type": "quantitative", "axis": null},
        "text": {"field": "t"}
      }
    },
    {
      "data": {"values": [{"A": 140.6, "v": -2.877, "t": "B"}]},
      "mark": {"type": "text", "font": "Liberation Serif", "fontStyle": "italic", "fontSize": 42, "align": "left", "baseline": "alphabetic", "color": "#111111"},
      "encoding": {
        "x": {"field": "A", "type": "quantitative", "axis": null},
        "y": {"field": "v", "type": "quantitative", "axis": null},
        "text": {"field": "t"}
      }
    },
    {
      "data": {"values": [{"A": 179.3, "v": -2.58, "t": "−1"}]},
      "mark": {"type": "text", "font": "Liberation Serif", "fontSize": 40, "align": "left", "baseline": "alphabetic", "color": "#111111"},
      "encoding": {
        "x": {"field": "A", "type": "quantitative", "axis": null},
        "y": {"field": "v", "type": "quantitative", "axis": null},
        "text": {"field": "t"}
      }
    },
    {
      "data": {"values": [{"A": 255.9, "v": -10.0, "t": "Lippuner"}]},
      "mark": {"type": "text", "font": "Liberation Sans", "fontSize": 44, "align": "right", "baseline": "alphabetic", "color": "#000000"},
      "encoding": {
        "x": {"field": "A", "type": "quantitative", "axis": null},
        "y": {"field": "v", "type": "quantitative", "axis": null},
        "text": {"field": "t"}
      }
    }
  ],
  "resolve": {"axis": {"x": "independent", "y": "independent"}}
}
